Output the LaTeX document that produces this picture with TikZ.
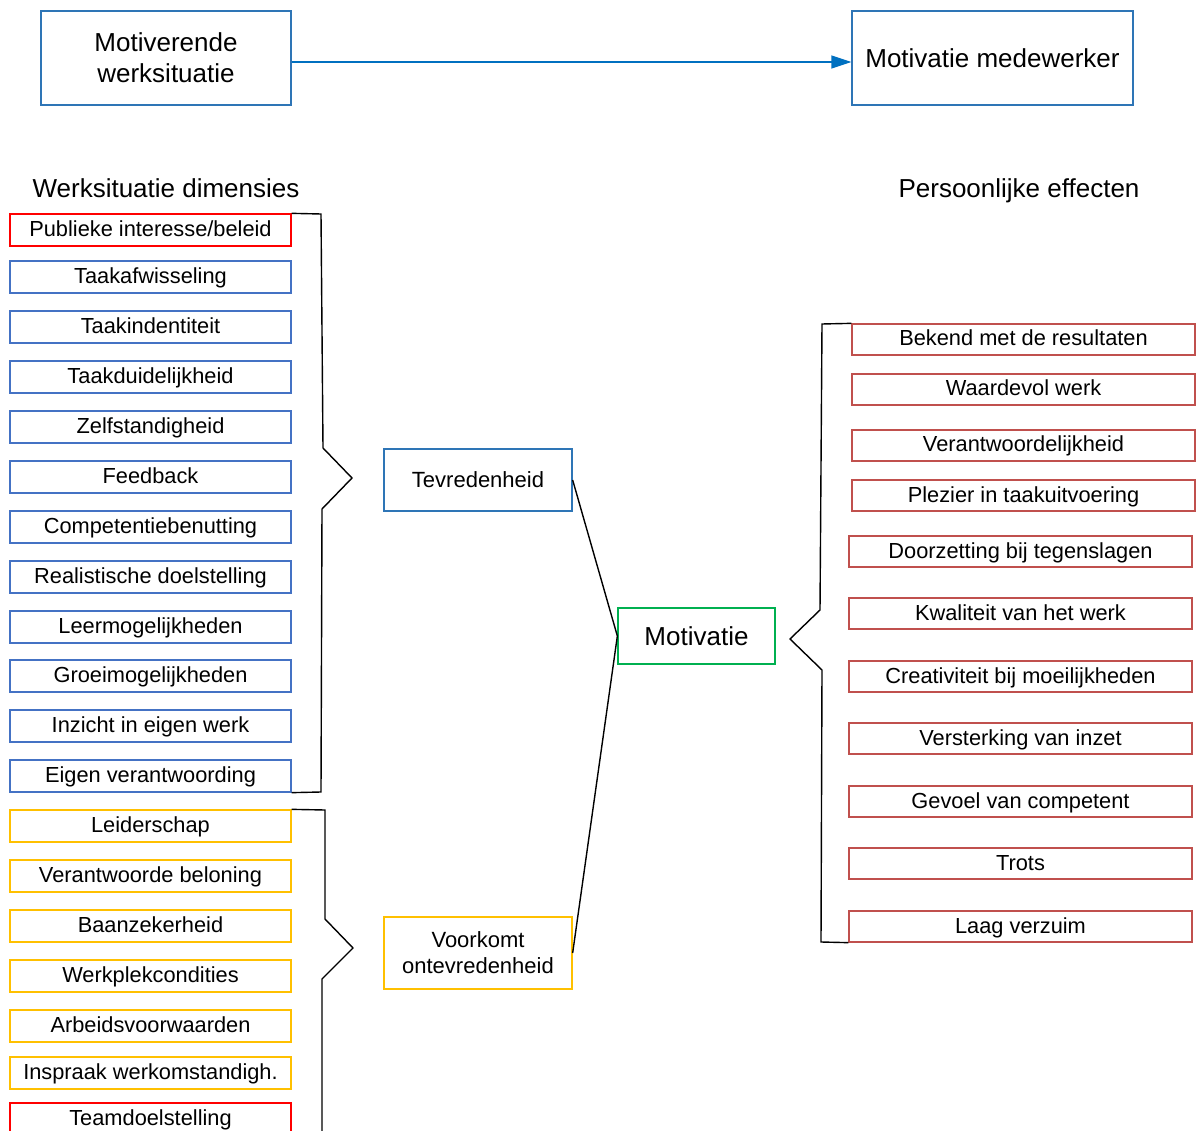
\documentclass[tikz,border=0pt]{standalone}
\usepackage{fontspec}
\setmainfont{Liberation Sans}
\usetikzlibrary{arrows.meta}
\definecolor{topblue}{HTML}{2E75B6}
\definecolor{arrblue}{HTML}{0070C0}
\definecolor{lblue}{HTML}{4472C4}
\definecolor{lred}{HTML}{FF0000}
\definecolor{lyel}{HTML}{FFC000}
\definecolor{lgreen}{HTML}{00B050}
\definecolor{rred}{HTML}{C0504D}
\newcommand\fsz[2]{\fontsize{#1}{#2}\selectfont}
\tikzset{
  boxbase/.style={draw, line width=1.3pt, inner sep=0pt, align=center},
  topbox/.style={boxbase, draw=topblue, minimum height=94pt, font=\fsz{26}{31}},
  lbox/.style={boxbase, minimum width=281pt, minimum height=32pt, text height=17pt, text depth=4pt, font=\fsz{21.8}{26}},
  bluebox/.style={lbox, draw=lblue},
  redbox/.style={lbox, draw=lred},
  yelbox/.style={lbox, draw=lyel},
  rbox/.style={boxbase, draw=rred, minimum width=343pt, minimum height=31pt, text height=17pt, text depth=4pt, font=\fsz{21.8}{26}},
  midbox/.style={boxbase, minimum width=188pt, font=\fsz{22}{26}},
  brk/.style={draw=black, line width=1.4pt, line join=miter},
  hdr/.style={inner sep=0pt, anchor=base, font=\fsz{26}{30}}
}
\begin{document}
\begin{tikzpicture}[x=1pt,y=-1pt]
\clip (0,0) rectangle (1197,1131);
\fill[white] (0,0) rectangle (1197,1131);

% top row
\node[topbox, minimum width=250pt] (top1) at (166,58) {Motiverende\\werksituatie};
\node[topbox, minimum width=281pt] (top2) at (992.5,58) {Motivatie medewerker};
\draw[arrblue, line width=1.3pt, -{Triangle[length=20pt,width=13pt]}] ([yshift=-4pt]top1.east) -- ([yshift=-4pt]top2.west);

% headers
\node[hdr] (h1) at (166,198) {Werksituatie dimensies};
\node[hdr] (h2) at (1019,198) {Persoonlijke effecten};

% left list
\node[redbox]  (l1)  at (150.5,230) {Publieke interesse/beleid};
\node[bluebox] (l2)  at (150.5,277) {Taakafwisseling};
\node[bluebox] (l3)  at (150.5,327) {Taakindentiteit};
\node[bluebox] (l4)  at (150.5,377) {Taakduidelijkheid};
\node[bluebox] (l5)  at (150.5,427) {Zelfstandigheid};
\node[bluebox] (l6)  at (150.5,477) {Feedback};
\node[bluebox] (l7)  at (150.5,527) {Competentiebenutting};
\node[bluebox] (l8)  at (150.5,577) {Realistische doelstelling};
\node[bluebox] (l9)  at (150.5,627) {Leermogelijkheden};
\node[bluebox] (l10) at (150.5,676) {Groeimogelijkheden};
\node[bluebox] (l11) at (150.5,726) {Inzicht in eigen werk};
\node[bluebox] (l12) at (150.5,776) {Eigen verantwoording};
\node[yelbox]  (l13) at (150.5,826) {Leiderschap};
\node[yelbox]  (l14) at (150.5,876) {Verantwoorde beloning};
\node[yelbox]  (l15) at (150.5,926) {Baanzekerheid};
\node[yelbox]  (l16) at (150.5,976) {Werkplekcondities};
\node[yelbox]  (l17) at (150.5,1026) {Arbeidsvoorwaarden};
\node[yelbox]  (l18) at (150.5,1073) {Inspraak werkomstandigh.};
\node[redbox]  (l19) at (150.5,1119) {Teamdoelstelling};

% middle boxes
\node[midbox, draw=topblue, minimum height=62pt] (tev) at (478,480) {Tevredenheid};
\node[midbox, draw=lyel, minimum height=72pt] (voor) at (478,953) {Voorkomt\\ontevredenheid};
\node[boxbase, draw=lgreen, minimum width=157pt, minimum height=56pt, font=\fsz{26}{30}] (mot) at (696.5,636) {Motivatie};

% right list
\node[rbox] (r1)  at (1023.5,339.5) {Bekend met de resultaten};
\node[rbox] (r2)  at (1023.5,389.5) {Waardevol werk};
\node[rbox] (r3)  at (1023.5,445.5) {Verantwoordelijkheid};
\node[rbox] (r4)  at (1023.5,495.5) {Plezier in taakuitvoering};
\node[rbox] (r5)  at (1020.5,551.5) {Doorzetting bij tegenslagen};
\node[rbox] (r6)  at (1020.5,613.5) {Kwaliteit van het werk};
\node[rbox] (r7)  at (1020.5,676.5) {Creativiteit bij moeilijkheden};
\node[rbox] (r8)  at (1020.5,738.5) {Versterking van inzet};
\node[rbox] (r9)  at (1020.5,801.5) {Gevoel van competent};
\node[rbox] (r10) at (1020.5,863.5) {Trots};
\node[rbox] (r11) at (1020.5,926.5) {Laag verzuim};

% brackets
\draw[brk] (l1.north east) -- (321,214) -- (323,448) -- (352,478) -- (322,509) -- (321,792) -- (l12.south east);
\draw[brk] (l13.north east) -- (325,810) -- (325,919) -- (353,948) -- (322,979) -- (322,1140);
\draw[brk] (r1.north west) -- (822,324) -- (820,610) -- (790,639) -- (822,670) -- (821,942) -- (r11.south west);

% connectors to Motivatie
\draw[brk] (tev.east) -- (mot.west);
\draw[brk] (voor.east) -- (mot.west);
\end{tikzpicture}
\end{document}
